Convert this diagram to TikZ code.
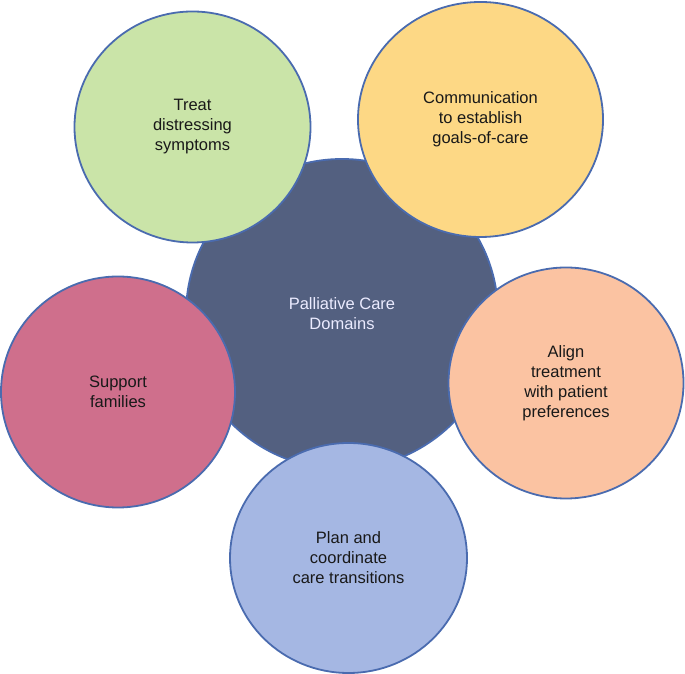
\documentclass[tikz,border=0pt]{standalone}
\usepackage{fontspec}
\setmainfont{Liberation Sans}
\usetikzlibrary{shapes.geometric}
\definecolor{hubfill}{HTML}{536080}
\definecolor{rimblue}{HTML}{4A6BAF}
\definecolor{symgreen}{HTML}{CAE4A8}
\definecolor{goalyellow}{HTML}{FDD885}
\definecolor{alignpeach}{HTML}{FBC3A2}
\definecolor{famrose}{HTML}{CF6F8C}
\definecolor{planblue}{HTML}{A5B7E3}
\begin{document}
\begin{tikzpicture}[x=1pt, y=1pt]
	\tikzstyle{Domain} = [ellipse, inner sep=0pt, align=center, draw=rimblue, line width=1.8pt, text=black!90, font=\fontsize{16.5}{20}\selectfont]
	\tikzstyle{Hub} = [Domain, fill=hubfill, text=white!92!blue]
	
	\useasboundingbox (0, 0) rectangle (685, 674);
	\node (hub) [Hub, minimum width=312, minimum height=310] at (342, 360) {Palliative Care\\Domains};
	\node (symptoms) [Domain, fill=symgreen, minimum width=236, minimum height=231] at (192.5, 547) {Treat\\distressing\\symptoms};
	\node (goals) [Domain, fill=goalyellow, minimum width=245, minimum height=235] at (480.5, 554.5) {Communication\\to establish\\goals-of-care};
	\node (align) [Domain, fill=alignpeach, minimum width=235, minimum height=231] at (566, 291) {Align\\treatment\\with patient\\preferences};
	\node (families) [Domain, fill=famrose, minimum width=234, minimum height=231] at (118, 282) {Support\\families};
	\node (plan) [Domain, fill=planblue, minimum width=237, minimum height=230] at (348.5, 116) {Plan and\\coordinate\\care transitions};
\end{tikzpicture}
\end{document}
